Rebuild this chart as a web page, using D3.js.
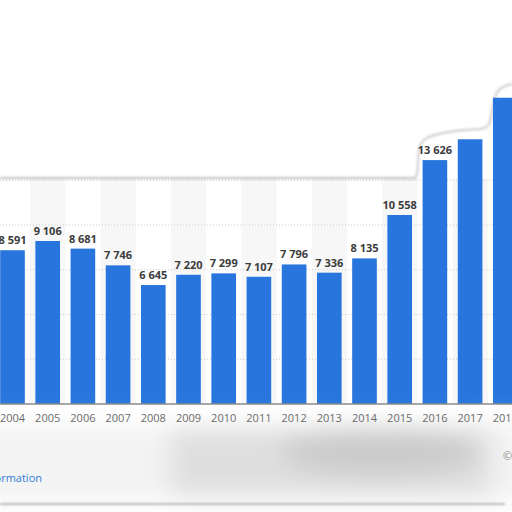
<!DOCTYPE html>
<html>
<head>
<meta charset="utf-8">
<script src="https://cdn.jsdelivr.net/npm/d3@7"></script>
<style>
  html, body { margin: 0; padding: 0; background: #fff; }
  svg { display: block; }
</style>
</head>
<body>
<div id="chart"></div>
<script>
// Data
const years = ["2004", "2005", "2006", "2007", "2008", "2009", "2010", "2011",
               "2012", "2013", "2014", "2015", "2016", "2017", "2018"];
const values = [8591, 9106, 8681, 7746, 6645, 7220, 7299, 7107,
                7796, 7336, 8135, 10558, 13626, 14790, 17110];
// labels of the last two bars are not visible in the picture
const hiddenLabels = ["2017", "2018"];
const gridValues = [2500, 5000, 7500, 10000, 12500];

const width = 512, height = 512;
const baseY = 404, topY = 46;
const frameTop = 178;
const barColour = "#2876dd";

const svg = d3.select("#chart").append("svg")
	.attr("width", width)
	.attr("height", height);

const defs = svg.append("defs");
defs.append("filter").attr("id", "soft")
	.attr("filterUnits", "userSpaceOnUse")
	.attr("x", -100).attr("y", 300).attr("width", 800).attr("height", 300)
	.append("feGaussianBlur").attr("stdDeviation", 12);
defs.append("filter").attr("id", "edge")
	.attr("filterUnits", "userSpaceOnUse")
	.attr("x", -20).attr("y", 0).attr("width", 560).attr("height", 512)
	.append("feGaussianBlur").attr("stdDeviation", 0.8);

// Scales
const x = d3.scaleBand()
	.domain(years)
	.range([-5.1, 522.9])
	.paddingInner(0.3)
	.paddingOuter(0.15);

const y = d3.scaleLinear()
	.domain([0, 20000])
	.range([baseY, topY]);

const step = x.step();

// alternating column background
svg.append("g")
	.selectAll("rect")
	.data(years.filter((d, i) => i % 2 == 1))
	.enter()
	.append("rect")
	.attr("x", d => x(d) + x.bandwidth() / 2 - step / 2)
	.attr("width", step)
	.attr("y", frameTop)
	.attr("height", baseY - frameTop)
	.attr("fill", "#f7f7f7");

// dotted grid lines
svg.append("g")
	.selectAll("line")
	.data(gridValues)
	.enter()
	.append("line")
	.attr("x1", 0).attr("x2", width)
	.attr("y1", d => y(d)).attr("y2", d => y(d))
	.attr("stroke", "#cccccc")
	.attr("stroke-width", 1)
	.attr("stroke-dasharray", "1,2");

// frame top edge (soft grey line)
svg.append("line")
	.attr("x1", 0).attr("x2", 416)
	.attr("y1", frameTop).attr("y2", frameTop)
	.attr("stroke", "#c2c2c2")
	.attr("stroke-width", 2)
	.attr("filter", "url(#edge)");
const edgeLine = d3.line().curve(d3.curveBasis);
svg.append("path")
	.attr("d", edgeLine([[414, frameTop], [418, 176], [418, 150],
						 [422, 138], [445, 132], [470, 129], [490, 130], [492, 110],
						 [496, 88], [512, 84]]))
	.attr("fill", "none")
	.attr("stroke", "#d6d6d6")
	.attr("stroke-width", 2.5)
	.attr("filter", "url(#edge)");

// bars
svg.append("g")
	.selectAll("rect")
	.data(years)
	.enter()
	.append("rect")
	.attr("x", d => x(d))
	.attr("width", x.bandwidth())
	.attr("y", (d, i) => y(values[i]))
	.attr("height", (d, i) => baseY - y(values[i]))
	.attr("fill", barColour);

// value labels
const fmt = v => d3.format(",")(v).replace(/,/g, " ");
svg.append("g")
	.selectAll("text")
	.data(years.filter(d => !hiddenLabels.includes(d)))
	.enter()
	.append("text")
	.attr("x", d => x(d) + x.bandwidth() / 2)
	.attr("y", d => y(values[years.indexOf(d)]) - 6)
	.attr("text-anchor", "middle")
	.attr("font-family", "Open Sans")
	.attr("font-weight", "bold")
	.attr("font-size", 11)
	.attr("fill", "#3c3c3c")
	.text(d => fmt(values[years.indexOf(d)]));

// footer shading
const shade = svg.append("g").attr("filter", "url(#soft)");
shade.append("rect").attr("x", -30).attr("y", 426).attr("width", 560).attr("height", 74)
	.attr("fill", "#f3f3f3");
shade.append("rect").attr("x", 170).attr("y", 428).attr("width", 320).attr("height", 68)
	.attr("fill", "#dfdfdf");
shade.append("ellipse").attr("cx", 380).attr("cy", 452).attr("rx", 100).attr("ry", 24)
	.attr("fill", "#cbcbcb");
shade.append("rect").attr("x", 492).attr("y", 420).attr("width", 10).attr("height", 80)
	.attr("fill", "#f2f2f2");

// card bottom edge
svg.append("line")
	.attr("x1", 0).attr("x2", 505)
	.attr("y1", 504).attr("y2", 504)
	.attr("stroke", "#b8b8b8")
	.attr("stroke-width", 2)
	.attr("filter", "url(#edge)");

// x axis
const xAxis = svg.append("g")
	.attr("transform", `translate(0,${baseY})`)
	.call(d3.axisBottom(x).tickSize(0).tickPadding(10));
xAxis.select(".domain")
	.attr("d", `M0,0H${width}`)
	.attr("stroke", "#8a8a8a")
	.attr("stroke-width", 1.6);
xAxis.selectAll("text")
	.attr("font-family", "Open Sans")
	.attr("font-size", 11)
	.attr("fill", "#6b6b6b");

// footer texts
svg.append("text")
	.attr("x", 42).attr("y", 482)
	.attr("text-anchor", "end")
	.attr("font-family", "Open Sans")
	.attr("font-size", 11)
	.attr("fill", "#2f7ed8")
	.text("Additional Information");

svg.append("text")
	.attr("x", 503).attr("y", 460)
	.attr("font-family", "Open Sans")
	.attr("font-size", 11)
	.attr("fill", "#8a8a8a")
	.text("© Statista 2019");
</script>
</body>
</html>
